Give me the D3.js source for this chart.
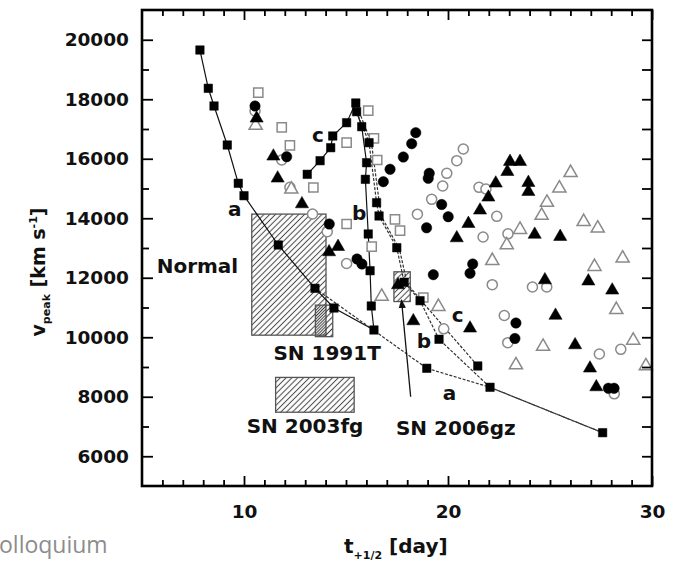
<!DOCTYPE html>
<html><head><meta charset="utf-8">
<script src="https://cdn.jsdelivr.net/npm/d3@7"></script>
<style>body{margin:0;background:#fff} svg{display:block}</style>
</head><body>
<svg id="c" width="673" height="569"></svg>
<script>
// ---------- data (t_+1/2 [day], v_peak [km/s]) ----------
const xTickLabels = [10, 20, 30];
const yTickLabels = [6000, 8000, 10000, 12000, 14000, 16000, 18000, 20000];

const curveASolid = [[7.84,19655],[8.25,18368],[8.53,17773],[9.18,16462],[9.72,15175],[10.0,14758],[11.68,13101],[13.48,11645],[14.41,10983],[16.37,10244]];
const curveADashed = [[13.48,11645],[18.96,8957],[22.06,8318],[27.58,6792]];
const curveBSolid = [[15.52,17582],[15.77,17078],[16.01,15867],[15.95,15309],[16.09,13471],[16.18,12237],[16.24,11051],[16.37,10244]];
const curveBDashed = [[15.52,17582],[16.13,16540],[16.50,14523],[16.62,14076],[17.49,13010],[17.85,11850],[18.63,11229],[19.56,9932],[22.06,8318],[27.58,6792]];
const curveCSolid = [[13.10,15477],[13.73,15935],[14.25,16372],[14.35,16765],[15.03,17212],[15.48,17874]];
const curveCDashed = [[15.48,17874],[16.25,16520],[16.64,14480],[16.76,14030],[17.62,12960],[18.0,11800],[18.75,11180],[21.46,9034]];

const modelSquares = [[7.84,19655],[8.25,18368],[8.53,17773],[9.18,16462],[9.72,15175],[10.0,14758],[11.68,13101],[13.48,11645],[14.41,10983],[16.37,10244],[18.96,8957],[22.06,8318],[27.58,6792],
  [15.48,17874],[15.52,17582],[15.77,17078],[16.01,15867],[15.95,15309],[16.09,13471],[16.18,12237],[16.24,11051],
  [16.13,16540],[16.50,14523],[16.62,14076],[17.49,13010],[17.85,11850],[18.63,11229],[19.56,9932],[21.46,9034],
  [13.10,15477],[13.73,15935],[14.25,16372],[14.35,16765],[15.03,17212]];

const openSquares = [[10.70,18220],[11.85,17057],[12.25,16452],[13.40,15034],[15.03,16540],[16.09,17615],[16.37,16687],[16.53,15958],[15.03,13807],[16.26,13044],[17.40,13965],[17.65,13582],[18.79,11336]];

const filledCircles = [[10.54,17773],[12.09,16069],[14.18,13807],[15.54,12631],[15.78,12462],[16.83,15229],[17.16,15646],[17.81,16059],[18.22,16506],[18.42,16876],[19.08,15511],[19.03,15343],[19.69,14462],[20.01,14052],[18.95,13679],[19.28,12103],[21.21,12462],[21.08,12150],[23.33,10479],[23.28,9958],[27.86,8284],[28.14,8284]];

const openCircles = [[10.54,17605],[11.85,15958],[12.25,15040],[13.36,14143],[14.08,13548],[15.03,12479],[18.50,14136],[19.20,14637],[19.74,15084],[19.94,15511],[20.43,15934],[20.75,16328],[21.52,15040],[21.86,14983],[22.39,14066],[21.72,13370],[22.94,13478],[22.17,11767],[24.14,11689],[24.84,11689],[22.76,10731],[22.93,9817],[19.79,10284],[27.42,9437],[28.47,9595],[28.15,8099]];

const filledTriangles = [[10.62,17360],[11.44,16083],[11.65,15343],[12.84,14479],[14.61,13044],[14.17,12866],[17.55,11757],[18.30,10547],[20.43,13336],[21.0,13817],[21.57,14268],[21.98,14704],[22.34,15175],[22.91,15565],[23.04,15901],[23.53,15901],[23.94,15195],[23.94,14893],[24.25,13454],[25.50,13380],[24.75,11924],[26.88,11884],[28.05,11578],[21.08,10301],[25.27,10731],[26.23,9740],[26.96,8957],[27.27,8328]];

const openTriangles = [[10.57,17118],[12.32,14973],[16.75,11370],[19.53,11027],[22.17,12573],[22.88,13101],[23.53,13619],[24.59,14093],[24.85,14530],[25.46,15007],[26.01,15531],[26.65,13884],[27.34,13662],[28.56,12654],[27.18,12372],[28.25,10926],[24.66,9689],[23.33,9067],[29.08,9894],[29.70,9034]];

// boxes: [t0, t1, v0, v1]
const boxNormal = [10.38, 14.02, 10070, 14140];
const box1991T = [13.50, 14.35, 10020, 11080];
const box2003fg = [11.55, 15.40, 7480, 8650];
const box2006gz = [17.35, 18.15, 11200, 12200];
const arrow2006gz = [[18.17, 7998], [17.72, 11252]];

const boxLabels = [
  {text:"Normal", t:5.72, v:12150},
  {text:"SN 1991T", t:11.44, v:9235},
  {text:"SN 2003fg", t:10.13, v:6782},
  {text:"SN 2006gz", t:17.45, v:6714}
];
const curveLabels = [
  {text:"a", t:9.22, v:14059}, {text:"b", t:15.29, v:13941}, {text:"c", t:13.33, v:16563},
  {text:"a", t:19.74, v:7891}, {text:"b", t:18.47, v:9639}, {text:"c", t:20.18, v:10513}
];

// ---------- chart ----------
const svg = d3.select("#c");
const L = 142, R = 652, T = 10, B = 486;
const x = d3.scaleLinear().domain([5, 30]).range([L, R]);
const y = d3.scaleLinear().domain([5000, 21000]).range([B, T]);
const FONT = "'DejaVu Sans', sans-serif";

const defs = svg.append("defs");
function hatch(id, color, offset, w) {
  const p = defs.append("pattern").attr("id", id).attr("patternUnits", "userSpaceOnUse")
    .attr("width", w).attr("height", w).attr("patternTransform", `rotate(45) translate(${offset},0)`);
  p.append("line").attr("x1", w / 2).attr("x2", w / 2).attr("y1", -1).attr("y2", w + 1)
    .attr("stroke", color).attr("stroke-width", 1.05);
}
hatch("h1", "#4a4a4a", 0, 4.1);
hatch("h2", "#3a3a3a", 2.05, 4.1);

function drawBox(b, fill, stroke) {
  svg.append("rect").attr("x", x(b[0])).attr("y", y(b[3]))
    .attr("width", x(b[1]) - x(b[0])).attr("height", y(b[2]) - y(b[3]))
    .attr("fill", fill).attr("stroke", stroke).attr("stroke-width", 1.3);
}
drawBox(boxNormal, "url(#h1)", "#555");
drawBox(box1991T, "url(#h2)", "#555");
drawBox(box2003fg, "url(#h1)", "#555");
svg.append("rect").attr("x", x(box2006gz[0])).attr("y", y(box2006gz[3]))
  .attr("width", x(box2006gz[1]) - x(box2006gz[0])).attr("height", y(box2006gz[2]) - y(box2006gz[3]))
  .attr("fill", "#fff");
drawBox(box2006gz, "url(#h1)", "#555");

// model lines
const line = d3.line().x(d => x(d[0])).y(d => y(d[1]));
function drawLine(data, dashed) {
  svg.append("path").attr("d", line(data)).attr("fill", "none")
    .attr("stroke", dashed ? "#333" : "#111").attr("stroke-width", 1.2)
    .attr("stroke-dasharray", dashed ? "3,1.6" : null);
}
drawLine(curveASolid, false);
drawLine(curveBSolid, false);
drawLine(curveCSolid, false);
drawLine(curveADashed, true);
drawLine(curveBDashed, true);
drawLine(curveCDashed, true);

// arrow
defs.append("marker").attr("id", "ah").attr("viewBox", "0 0 10 10").attr("refX", 9).attr("refY", 5)
  .attr("markerWidth", 7).attr("markerHeight", 7).attr("orient", "auto")
  .append("path").attr("d", "M0,1 L10,5 L0,9 Z").attr("fill", "#111");
svg.append("line").attr("x1", x(arrow2006gz[0][0])).attr("y1", y(arrow2006gz[0][1]))
  .attr("x2", x(arrow2006gz[1][0])).attr("y2", y(arrow2006gz[1][1]))
  .attr("stroke", "#111").attr("stroke-width", 1.3).attr("marker-end", "url(#ah)");

// markers
function markers(data, type, size, filled) {
  svg.append("g").selectAll("path").data(data).join("path")
    .attr("transform", d => `translate(${x(d[0])},${y(d[1])})`)
    .attr("d", d3.symbol().type(type).size(size))
    .attr("fill", filled ? "#000" : "#fff")
    .attr("stroke", filled ? "#000" : "#8a8a8a")
    .attr("stroke-width", filled ? 0.5 : 1.5);
}
markers(openSquares, d3.symbolSquare, 85, false);
markers(openCircles, d3.symbolCircle, 80, false);
markers(openTriangles, d3.symbolTriangle, 75, false);
markers(filledCircles, d3.symbolCircle, 85, true);
markers(filledTriangles, d3.symbolTriangle, 75, true);
markers(modelSquares, d3.symbolSquare, 72, true);

// labels
svg.append("g").selectAll("text").data(boxLabels.concat(curveLabels)).join("text")
  .attr("x", d => x(d.t)).attr("y", d => y(d.v)).text(d => d.text)
  .attr("font-family", FONT).attr("font-weight", "bold").attr("font-size", 20).attr("fill", "#111");

// axes
function styleAxis(g) {
  g.select(".domain").remove();
  g.selectAll("line").attr("stroke", "#000").attr("stroke-width", 1.8);
  g.selectAll("text").attr("font-family", FONT).attr("font-weight", "bold").attr("font-size", 18.5).attr("fill", "#111");
}
const xMinor = d3.range(6, 30).filter(v => v % 10 !== 0);
const yMinor = d3.range(7000, 21000, 2000);
const yAll = d3.range(6000, 21000, 1000);

svg.append("g").attr("transform", `translate(0,${B})`)
  .call(d3.axisBottom(x).tickValues(xTickLabels).tickSize(-10).tickPadding(19).tickFormat(d3.format("d"))).call(styleAxis);
svg.append("g").attr("transform", `translate(0,${B})`)
  .call(d3.axisBottom(x).tickValues(xMinor).tickSize(-6).tickFormat("")).call(styleAxis);
svg.append("g").attr("transform", `translate(0,${T})`)
  .call(d3.axisTop(x).tickValues(xTickLabels).tickSize(-10).tickFormat("")).call(styleAxis);
svg.append("g").attr("transform", `translate(0,${T})`)
  .call(d3.axisTop(x).tickValues(xMinor).tickSize(-6).tickFormat("")).call(styleAxis);
svg.append("g").attr("transform", `translate(${L},0)`)
  .call(d3.axisLeft(y).tickValues(yTickLabels).tickSize(-11).tickPadding(13).tickFormat(d3.format("d"))).call(styleAxis);
svg.append("g").attr("transform", `translate(${L},0)`)
  .call(d3.axisLeft(y).tickValues(yMinor).tickSize(-7).tickFormat("")).call(styleAxis);
svg.append("g").attr("transform", `translate(${R},0)`)
  .call(d3.axisRight(y).tickValues(yAll).tickSize(-10).tickFormat("")).call(styleAxis);

// frame
svg.append("rect").attr("x", L).attr("y", T).attr("width", R - L).attr("height", B - T)
  .attr("fill", "none").attr("stroke", "#000").attr("stroke-width", 2.6);

// axis titles
const xt = svg.append("text").attr("x", 344).attr("y", 553)
  .attr("font-family", FONT).attr("font-weight", "bold").attr("font-size", 20).attr("fill", "#111");
xt.append("tspan").text("t");
xt.append("tspan").attr("font-size", 11).attr("dy", 6).text("+1/2");
xt.append("tspan").attr("dy", -6).text(" [day]");

const yt = svg.append("text").attr("transform", "translate(45,272) rotate(-90)").attr("text-anchor", "middle")
  .attr("font-family", FONT).attr("font-weight", "bold").attr("font-size", 19).attr("fill", "#111");
yt.append("tspan").text("v");
yt.append("tspan").attr("font-size", 11).attr("dy", 5).text("peak");
yt.append("tspan").attr("dy", -5).text(" [km s");
yt.append("tspan").attr("font-size", 11).attr("dy", -8).text("-1");
yt.append("tspan").attr("dy", 8).text("]");

// slide footer remnant
svg.append("text").attr("x", -1).attr("y", 553).text("olloquium")
  .attr("font-family", "'Open Sans', sans-serif").attr("font-size", 23).attr("fill", "#8c8c8c");
</script>
</body></html>
